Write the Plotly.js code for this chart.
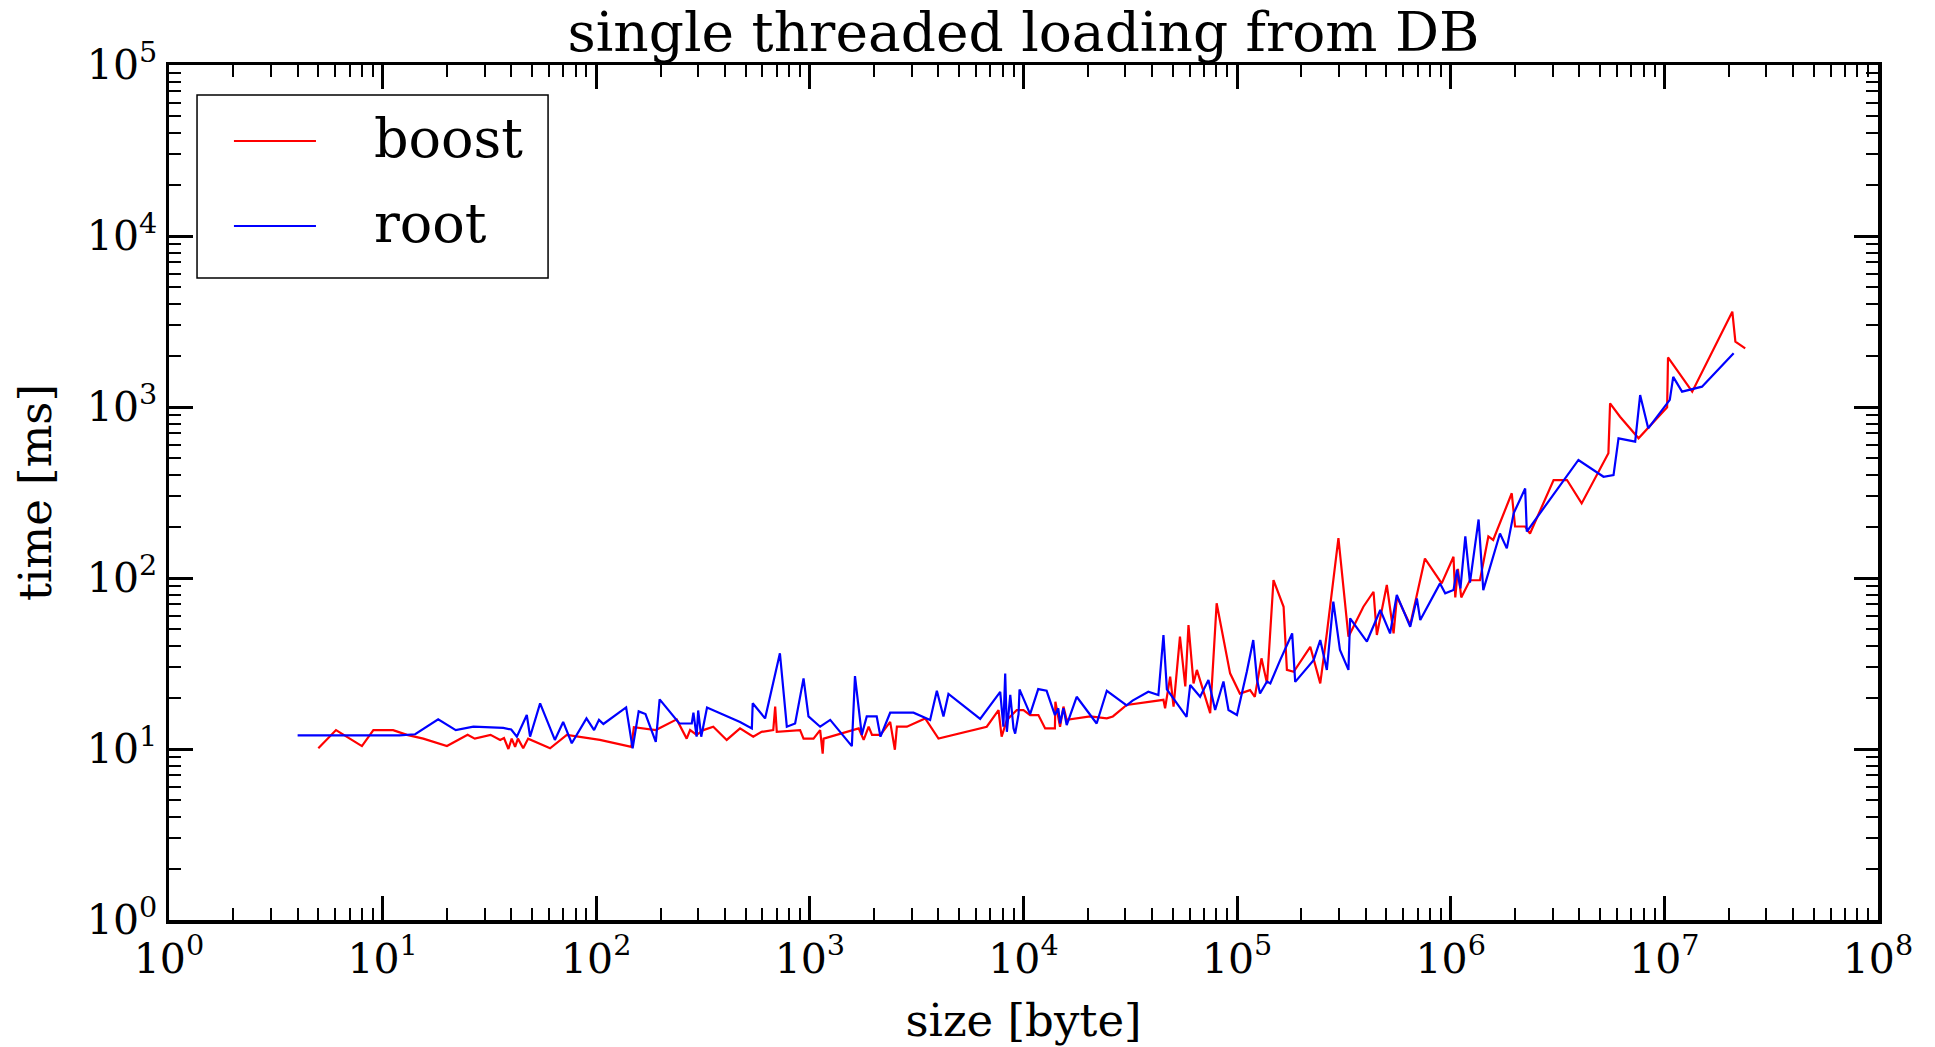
<!DOCTYPE html>
<html>
<head>
<meta charset="utf-8">
<script src="https://cdn.plot.ly/plotly-3.0.1.min.js"></script>
<style>
  html, body { margin: 0; padding: 0; background: #ffffff; }
  #chart { width: 1935px; height: 1047px; }
</style>
</head>
<body>
<div id="chart"></div>
<script>
// ---------- data ----------
const seriesNames = ["boost", "root"];
const seriesColors = ["#ff0000", "#0000ff"];

const boostSize = [5,6.05,8,9.05,11.2,13,15.5,20,25,27,32,35.5,37,38.8,40.2,41.7,43,45.5,48,60.8,72.8,104,146,150,190,238,265,275,295,317,353,408,471,543,594,674,688,700,900,934,1040,1117,1148,1160,1692,1786,1884,1954,2140,2376,2500,2555,2845,3340,3465,4000,6730,7640,7900,8360,9300,10000,10740,11740,12630,14030,14100,14830,15380,15930,20500,24550,26200,30400,35200,45200,46000,48600,50400,54000,57200,59200,62500,64800,74800,77500,80200,92700,103000,115000,121000,130000,138000,148000,165000,171000,184000,220000,245000,263000,298000,332000,390000,435000,451000,502000,540000,560000,646000,757000,907000,1030000,1050000,1080000,1120000,1230000,1370000,1500000,1580000,1930000,2000000,2230000,2350000,3030000,3500000,4100000,5470000,5570000,6200000,7570000,10300000,10400000,13500000,20800000,21500000,23900000];
const boostTime = [10.1,12.9,10.4,12.9,12.9,12.1,11.5,10.4,12.1,11.5,12.1,11.3,11.6,10.0,11.5,10.3,11.5,10.1,11.5,10.1,12.1,11.3,10.3,13.4,12.9,14.9,11.5,12.9,12.1,12.9,13.5,11.3,13.2,11.8,12.6,12.9,17.7,12.6,12.9,11.5,11.5,12.9,9.4,11.5,13.2,11.3,13.5,12.1,12.1,14.4,9.9,13.5,13.5,14.8,15.1,11.5,13.5,16.9,11.8,14.8,16.9,16.9,15.8,15.8,13.2,13.2,18.9,13.5,17.7,14.8,15.5,15.1,15.5,18.1,18.5,19.4,17.3,26.5,17.7,45.4,23.2,53,24.2,29,16.2,34.7,71.1,27.7,21.1,22.1,20.2,33.9,24.2,97.3,67.9,29,28.3,39.6,24.2,47.4,171,45.4,67.9,83.1,46.4,91,47.4,77.6,53.1,130,93,133,77,113,77,97,97,175,167,313,200,200,182,374,374,273,536,1050,877,656,995,1950,1230,3610,2410,2200];

const rootSize = [4,5,6,8,10,12,14.2,18.2,22,26.6,36.7,40,42.5,47.3,49,54.6,64,70,76.8,90,97.7,103,108,138,148,158,170,190,198,245,280,285,295,300,310,330,471,535,540,617,724,780,853,934,985,1117,1245,1572,1626,1750,1846,2055,2140,2376,3055,3655,3930,4220,4454,6270,7780,8050,8210,8360,8670,8980,9140,9480,9580,10740,11720,12830,14030,14550,14830,15380,15930,17740,22000,24550,30400,32400,38400,42800,45200,46900,58000,60300,67100,73400,78900,86300,91100,99800,111000,119000,124000,128000,138000,143000,159000,181000,187000,228000,245000,263000,282000,303000,332000,338000,405000,468000,520000,559000,646000,694000,720000,891000,942000,1030000,1070000,1110000,1170000,1230000,1350000,1420000,1700000,1830000,1970000,2230000,2270000,3960000,5190000,5780000,6100000,7300000,7700000,8400000,10600000,11000000,12100000,15000000,21100000];
const rootTime = [12,12,12,12,12,12,12.2,14.9,12.9,13.5,13.3,13.0,11.8,15.8,11.8,18.5,11.3,14.4,10.8,15.1,12.9,14.8,14.0,17.5,10.1,16.6,16.0,11.0,19.5,14.1,14.1,16.3,11.8,16.8,11.8,17.5,14.4,13.2,18.5,15.1,36.3,13.5,14.1,25.9,15.5,13.5,14.8,10.4,26.7,12.1,15.5,15.5,11.8,16.3,16.3,14.8,21.9,15.5,21.0,15.0,21.6,13.5,27.6,12.6,20.7,13.2,12.3,16,22.3,16,22.4,21.9,15.8,17.3,14.1,17.3,13.8,20.2,14.1,21.9,18,19.2,21.6,20.7,46.4,22.3,15.4,23.7,20.2,25.3,16.9,24.8,16.9,15.8,28.3,43.4,25.3,21.1,24.8,24.2,33.1,47.4,24.7,33.1,43.4,29,72.7,37.9,29,58.1,42.5,65,47.4,79.6,51.9,76,56.8,93,81.4,85,112,87,175,94,220,85,182,149,239,334,187,490,391,400,656,627,1175,750,1100,1500,1230,1315,2060];

// axis ticks
const xTickVals = [1,10,100,1000,10000,100000,1000000,10000000,100000000];
const xTickText = ["10<sup>0</sup>","10<sup>1</sup>","10<sup>2</sup>","10<sup>3</sup>","10<sup>4</sup>","10<sup>5</sup>","10<sup>6</sup>","10<sup>7</sup>","10<sup>8</sup>"];
const yTickVals = [1,10,100,1000,10000,100000];
const yTickText = ["10<sup>0</sup>","10<sup>1</sup>","10<sup>2</sup>","10<sup>3</sup>","10<sup>4</sup>","10<sup>5</sup>"];
const minorDigits = [2,3,4,5,6,7,8,9];

const titleText = "single threaded loading from DB";
const xTitle = "size [byte]";
const yTitle = "time [ms]";

// ---------- build ----------
function minorVals(majors) {
  const out = [];
  for (let i = 0; i < majors.length - 1; i++) {
    for (const d of minorDigits) out.push(majors[i] * d);
  }
  return out;
}

const FONT = "DejaVu Serif, Liberation Serif, serif";

const traces = [
  { x: boostSize, y: boostTime, name: seriesNames[0], type: "scatter", mode: "lines",
    line: { color: seriesColors[0], width: 2.2 } },
  { x: rootSize, y: rootTime, name: seriesNames[1], type: "scatter", mode: "lines",
    line: { color: seriesColors[1], width: 2.2 } }
];

function axisBase(vals, text, rangeLog) {
  return {
    type: "log",
    range: rangeLog,
    tickmode: "array",
    tickvals: vals,
    ticktext: text,
    ticks: "inside",
    ticklen: 24,
    tickwidth: 3,
    tickcolor: "#000",
    showline: true,
    linecolor: "#000",
    linewidth: 3.5,
    mirror: "allticks",
    showgrid: false,
    zeroline: false,
    tickfont: { family: FONT, size: 41, color: "#000" },
    minor: { tickmode: "array", tickvals: minorVals(vals), ticks: "inside",
             ticklen: 12, tickwidth: 2, tickcolor: "#000", showgrid: false }
  };
}

const xaxis = axisBase(xTickVals, xTickText, [0, 8]);
xaxis.title = { text: xTitle, font: { family: FONT, size: 45, color: "#000" }, standoff: 24 };
const yaxis = axisBase(yTickVals, yTickText, [0, 5]);
yaxis.title = { text: yTitle, font: { family: FONT, size: 45, color: "#000" }, standoff: 22 };

// custom legend (paper coordinates)
const L = { x0: 0.0164, x1: 0.2218, y0: 0.7509, y1: 0.9649, lx0: 0.038, lx1: 0.086, tx: 0.119, rows: [0.9111, 0.8117], trow: [0.9141, 0.8147] };
const shapes = [
  { type: "rect", xref: "paper", yref: "paper", x0: L.x0, x1: L.x1, y0: L.y0, y1: L.y1,
    line: { color: "#000", width: 1.5 }, fillcolor: "#ffffff", layer: "above" }
];
const annotations = [];
seriesNames.forEach((nm, i) => {
  shapes.push({ type: "line", xref: "paper", yref: "paper", x0: L.lx0, x1: L.lx1, y0: L.rows[i], y1: L.rows[i],
    line: { color: seriesColors[i], width: 2 }, layer: "above" });
  annotations.push({ xref: "paper", yref: "paper", x: L.tx, y: L.trow[i], xanchor: "left", yanchor: "middle",
    text: nm, showarrow: false, font: { family: FONT, size: 54, color: "#000" } });
});

const layout = {
  width: 1935, height: 1047,
  paper_bgcolor: "#ffffff", plot_bgcolor: "#ffffff",
  margin: { l: 169, r: 57, t: 65, b: 127 },
  showlegend: false,
  title: { text: titleText, font: { family: FONT, size: 55, color: "#000" },
           x: 0.5, xref: "paper", xanchor: "center", y: 1, yref: "paper", yanchor: "bottom", pad: { b: 14 } },
  xaxis: xaxis, yaxis: yaxis,
  shapes: shapes, annotations: annotations
};

Plotly.newPlot("chart", traces, layout, { staticPlot: true, displayModeBar: false });
</script>
</body>
</html>
